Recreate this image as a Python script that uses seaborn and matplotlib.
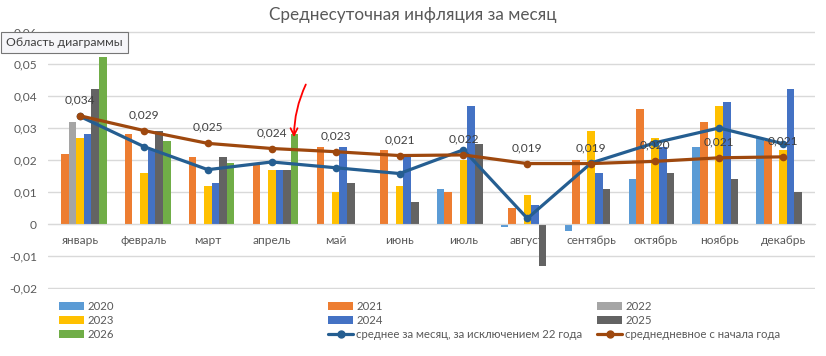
import numpy as np
import pandas as pd
import seaborn as sns
import matplotlib.pyplot as plt
from matplotlib.lines import Line2D
from matplotlib.patches import Patch
from matplotlib.ticker import FuncFormatter, MultipleLocator

sns.set_style("white")
plt.rcParams['font.family'] = ['Lato', 'DejaVu Sans']

nan = np.nan
months = ['январь', 'февраль', 'март', 'апрель', 'май', 'июнь', 'июль',
          'август', 'сентябрь', 'октябрь', 'ноябрь', 'декабрь']
years = ['2020', '2021', '2022', '2023', '2024', '2025', '2026']

# среднесуточная инфляция по годам
v2020 = [nan, nan, nan, nan, nan, nan, 0.011, -0.001, -0.002, 0.014, 0.024, 0.027]
v2021 = [0.022, 0.028, 0.021, 0.019, 0.024, 0.023, 0.010, 0.005, 0.020, 0.036, 0.032, 0.026]
v2022 = [0.032, nan, nan, nan, nan, nan, nan, nan, nan, nan, nan, nan]
v2023 = [0.027, 0.016, 0.012, 0.017, 0.010, 0.012, 0.020, 0.009, 0.029, 0.027, 0.037, 0.023]
v2024 = [0.028, 0.023, 0.013, 0.017, 0.024, 0.021, 0.037, 0.006, 0.016, 0.024, 0.038, 0.042]
v2025 = [0.042, 0.029, 0.021, 0.017, 0.013, 0.007, 0.025, -0.013, 0.011, 0.016, 0.014, 0.010]
v2026 = [0.052, 0.026, 0.019, 0.028, nan, nan, nan, nan, nan, nan, nan, nan]

avg_ex22 = [0.0336, 0.0242, 0.0170, 0.0194, 0.0176, 0.0158, 0.0232, 0.0018,
            0.0191, 0.0254, 0.0300, 0.0251]
avg_ytd = [0.0338, 0.0292, 0.0252, 0.0236, 0.0226, 0.0214, 0.0216, 0.0189,
           0.0189, 0.0196, 0.0207, 0.0210]

lbl_ex22 = 'среднее за месяц, за исключением 22 года'
lbl_ytd = 'среднедневное с начала года'

colors = ['#5B9BD5', '#ED7D31', '#A5A5A5', '#FFC000', '#4472C4', '#636363', '#70AD47']
c_ex22 = '#255E91'
c_ytd = '#9E480E'
grid_c = '#D9D9D9'
txt_c = '#595959'

series = [v2020, v2021, v2022, v2023, v2024, v2025, v2026]
rows = []
for y, vals in zip(years, series):
    for m, v in zip(months, vals):
        rows.append((m, y, v))
df = pd.DataFrame(rows, columns=['month', 'year', 'value']).dropna()

fig = plt.figure(figsize=(8.26, 3.56), dpi=100)
ax = fig.add_axes([48 / 826, 1 - 288.7 / 356, 767 / 826, 257.3 / 356])

sns.barplot(data=df, x='month', y='value', hue='year', order=months,
            hue_order=years, palette=colors, saturation=1, width=0.835,
            gap=0, errorbar=None, linewidth=0, legend=False, ax=ax)

x = np.arange(len(months))
sns.lineplot(x=x, y=avg_ex22, color=c_ex22, lw=2.3, marker='o', markersize=5.5,
             markeredgewidth=0, ax=ax)
sns.lineplot(x=x, y=avg_ytd, color=c_ytd, lw=2.3, marker='o', markersize=5.5,
             markeredgewidth=0, ax=ax)

for i, v in enumerate(avg_ytd):
    ax.annotate(f"{v:.3f}".replace('.', ','), (i, v), xytext=(0, 11.5),
                textcoords='offset points', ha='center', va='center',
                fontsize=8.6, color='#404040')

ax.set_xlim(-0.5, 11.5)
ax.set_ylim(-0.0201, 0.0601)
ax.yaxis.set_major_locator(MultipleLocator(0.01))
ax.yaxis.set_major_formatter(FuncFormatter(
    lambda v, p: '0' if abs(v) < 1e-9 else f"{v:.2f}".replace('.', ',')))
ax.set_axisbelow(True)
ax.yaxis.grid(True, color=grid_c, lw=1)
ax.xaxis.grid(False)
for s in ['top', 'right', 'left']:
    ax.spines[s].set_visible(False)
ax.spines['bottom'].set_position(('data', 0))
ax.spines['bottom'].set_color(grid_c)
ax.tick_params(axis='both', length=0, labelsize=8.6, labelcolor=txt_c)
ax.tick_params(axis='x', pad=8)
ax.tick_params(axis='y', pad=8)
ax.set_xlabel('')
ax.set_ylabel('')

fig.text(0.5, 1 - 15 / 356, 'Среднесуточная инфляция за месяц',
         ha='center', va='center', fontsize=12.3, color=txt_c)

# легенда: три колонки
def bar_h(i):
    return Patch(facecolor=colors[i], edgecolor='none', label=years[i])

line1 = Line2D([], [], color=c_ex22, lw=2.3, marker='o', markersize=5, label=lbl_ex22)
line2 = Line2D([], [], color=c_ytd, lw=2.3, marker='o', markersize=5, label=lbl_ytd)
cols = [([bar_h(0), bar_h(3), bar_h(6)], 59),
        ([bar_h(1), bar_h(4), line1], 328),
        ([bar_h(2), bar_h(5), line2], 597)]
for hs, xp in cols:
    leg = fig.legend(handles=hs, loc='upper left',
                     bbox_to_anchor=(xp / 826, 1 - 301 / 356),
                     frameon=False, fontsize=8.2, handlelength=2.2,
                     handleheight=0.6, handletextpad=0.3, borderpad=0,
                     borderaxespad=0, labelspacing=0.26)
    for t in leg.get_texts():
        t.set_color(txt_c)

# красная стрелка у апреля
ax.annotate('', xy=(294, 356 - 140), xytext=(307, 356 - 82),
            xycoords='figure pixels', textcoords='figure pixels',
            arrowprops=dict(arrowstyle='->,head_length=0.5,head_width=0.25',
                            color='red', lw=1.3,
                            connectionstyle='arc3,rad=0.12'))

# всплывающая подсказка Excel
fig.text(6 / 826, 1 - 42.5 / 356, 'Область диаграммы', ha='left', va='center',
         fontsize=8.8, color='#404040',
         bbox=dict(boxstyle='square,pad=0.4', fc='#F6F6F9', ec='#767676', lw=0.8))

fig.savefig('out.png', dpi=100)
